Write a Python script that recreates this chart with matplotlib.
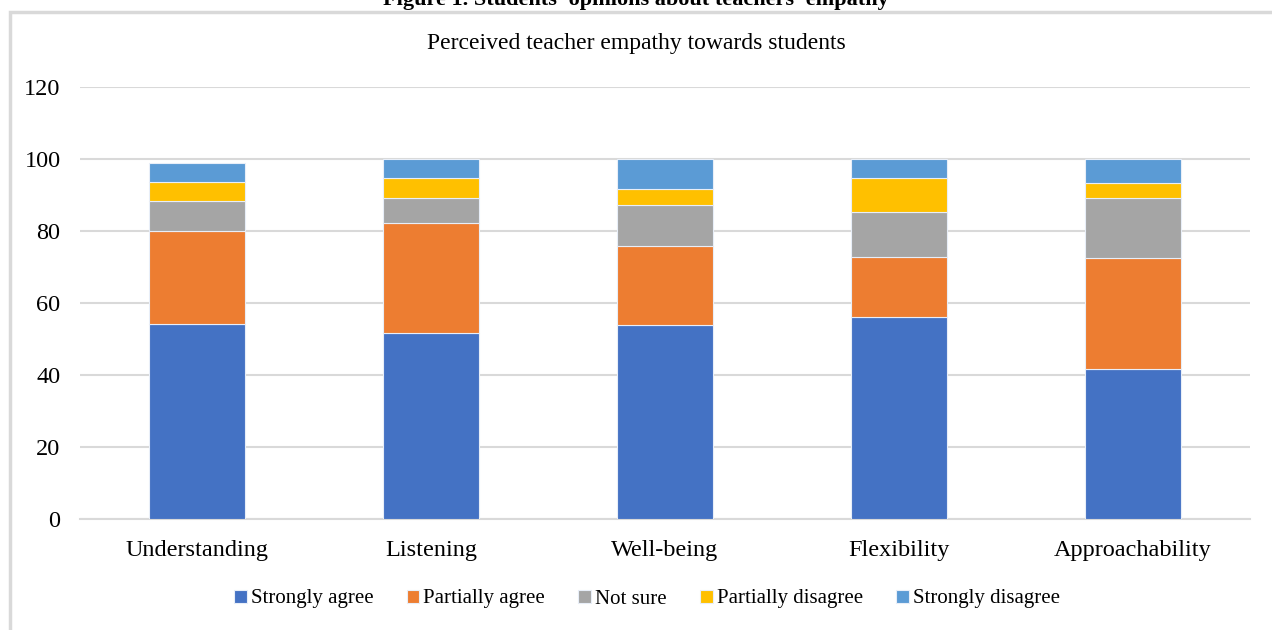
import matplotlib
matplotlib.use('Agg')
from matplotlib import pyplot as plt
from matplotlib.patches import Rectangle
import numpy as np

plt.rcParams['font.family'] = ['Liberation Serif', 'DejaVu Serif']

# data
categories = ['Understanding', 'Listening', 'Well-being', 'Flexibility', 'Approachability']
strongly_agree = [54.1, 51.8, 53.9, 56.0, 41.7]
partially_agree = [26.0, 30.3, 21.8, 16.7, 30.9]
not_sure = [8.2, 7.2, 11.6, 12.5, 16.7]
partially_disagree = [5.3, 5.3, 4.3, 9.4, 4.0]
strongly_disagree = [5.3, 5.4, 8.4, 5.4, 6.7]

series = ['Strongly agree', 'Partially agree', 'Not sure', 'Partially disagree', 'Strongly disagree']
colors = ['#4472C4', '#ED7D31', '#A5A5A5', '#FFC000', '#5B9BD5']

fig = plt.figure(figsize=(12.72, 6.3), dpi=100)
ax = fig.add_axes([80 / 1272, 1 - 519 / 630, 1170 / 1272, 432 / 630])

# light gray frame around the chart (cut off at right/bottom)
fig.patches.append(Rectangle((10 / 1272, -0.05), 1.2, 1 - 12 / 630 + 0.05,
                             transform=fig.transFigure, fill=False,
                             edgecolor='#d9d9d9', linewidth=2.5, zorder=0))

x = np.arange(len(categories))
bottom = np.zeros(len(categories))
for name, vals, c in zip(series, [strongly_agree, partially_agree, not_sure,
                                  partially_disagree, strongly_disagree], colors):
    ax.bar(x, vals, 0.41, bottom=bottom, color=c, label=name,
           edgecolor='#e8eef8', linewidth=0.8, zorder=3)
    bottom += np.array(vals)

ax.set_xlim(-0.5, 4.5)
ax.set_ylim(0, 120)
ax.set_yticks(range(0, 121, 20))
ax.yaxis.grid(True, color='#d9d9d9', linewidth=1.5, zorder=0)
ax.set_axisbelow(True)
for s in ['top', 'right', 'left']:
    ax.spines[s].set_visible(False)
ax.spines['bottom'].set_color('#d9d9d9')
ax.spines['bottom'].set_linewidth(1.5)
ax.set_xticks(x)
ax.set_xticklabels(categories, fontsize=17.5)
ax.tick_params(axis='both', length=0, labelsize=17.5, colors='black')
ax.tick_params(axis='x', pad=15)
ax.tick_params(axis='y', pad=14)

fig.text(0.5, 1 - 43 / 630, 'Perceived teacher empathy towards students',
         ha='center', va='center', fontsize=17)
fig.text(0.5, 1 - 0 / 630, "Figure 1. Students' opinions about teachers' empathy",
         ha='center', va='center', fontsize=16, fontweight='bold')

leg = fig.legend(loc='center', bbox_to_anchor=(647 / 1272, 1 - 599 / 630), ncol=5,
                 frameon=False, fontsize=15, handlelength=0.6, handleheight=0.6,
                 handletextpad=0.2, columnspacing=1.6)

fig.savefig('out.png', dpi=100)
